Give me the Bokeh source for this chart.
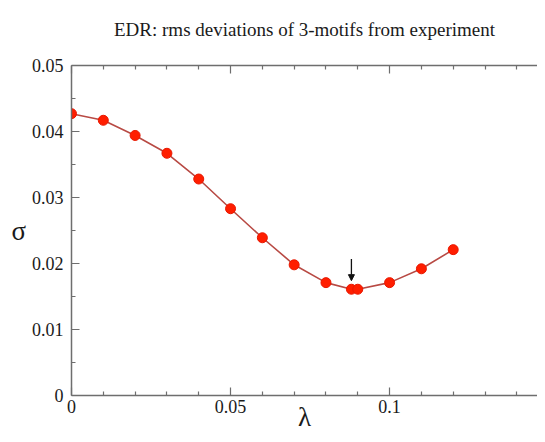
from bokeh.plotting import figure
from bokeh.models import (FixedTicker, LinearAxis, Arrow, NormalHead,
                          Range1d, ColumnDataSource)
from bokeh.embed import file_html
from bokeh.resources import INLINE

# ---- data ----
lam = [0.0, 0.01, 0.02, 0.03, 0.04, 0.05, 0.06, 0.07, 0.08, 0.088, 0.09, 0.10, 0.11, 0.12]
sigma = [0.0427, 0.0417, 0.0394, 0.0367, 0.0328, 0.0283, 0.0239, 0.0198, 0.0171,
         0.0161, 0.0161, 0.0171, 0.0192, 0.0221]

x_ticks = [0.0, 0.05, 0.1]
x_tick_labels = ["0", "0.05", "0.1"]
x_minor = [0.01, 0.02, 0.03, 0.04, 0.06, 0.07, 0.08, 0.09, 0.11, 0.12, 0.13, 0.14]
y_ticks = [0.0, 0.01, 0.02, 0.03, 0.04, 0.05]
y_tick_labels = ["0", "0.01", "0.02", "0.03", "0.04", "0.05"]
y_minor = [0.005, 0.015, 0.025, 0.035, 0.045]

title_text = "EDR: rms deviations of 3-motifs from experiment"
x_label = "λ"
y_label = "σ"

FONT = "Liberation Serif"
AXC = "#6e6e6e"
TXT = "#1a1a1a"

src = ColumnDataSource(dict(x=lam, y=sigma))

p = figure(width=537, height=434, output_backend="svg", toolbar_location=None,
           x_range=Range1d(0, 0.1465), y_range=Range1d(0, 0.05),
           min_border_left=71, min_border_right=0, min_border_top=65,
           min_border_bottom=39, title=title_text + "\n ")
p.outline_line_color = None
p.xgrid.visible = False
p.ygrid.visible = False
p.background_fill_color = "white"
p.border_fill_color = "white"

p.title.text_font = FONT
p.title.text_font_size = "19px"
p.title.text_font_style = "normal"
p.title.text_color = TXT
p.title.align = "center"
p.title.standoff = 10

def style_axis(ax, ticks, minor, labels, standoff, show_labels=True):
    ax.ticker = FixedTicker(ticks=ticks, minor_ticks=minor)
    ax.major_label_overrides = {t: l for t, l in zip(ticks, labels)}
    ax.axis_line_color = AXC
    ax.axis_line_width = 1.5
    ax.major_tick_line_color = AXC
    ax.minor_tick_line_color = AXC
    ax.major_tick_line_width = 1.2
    ax.minor_tick_line_width = 1.2
    ax.major_tick_in = 8
    ax.major_tick_out = 0
    ax.minor_tick_in = 4
    ax.minor_tick_out = 0
    ax.major_label_standoff = standoff
    ax.major_label_text_font = FONT
    ax.major_label_text_font_size = "18px" if show_labels else "0px"
    ax.major_label_text_color = TXT

style_axis(p.xaxis[0], x_ticks, x_minor, x_tick_labels, 4)
style_axis(p.yaxis[0], y_ticks, y_minor, y_tick_labels, 8)

p.xaxis[0].axis_label = x_label
p.xaxis[0].axis_label_text_font = FONT
p.xaxis[0].axis_label_text_font_size = "27px"
p.xaxis[0].axis_label_text_font_style = "normal"
p.xaxis[0].axis_label_text_color = TXT
p.xaxis[0].axis_label_standoff = -14

p.yaxis[0].axis_label = y_label
p.yaxis[0].axis_label_orientation = "horizontal"
p.yaxis[0].axis_label_text_font = FONT
p.yaxis[0].axis_label_text_font_size = "27px"
p.yaxis[0].axis_label_text_font_style = "normal"
p.yaxis[0].axis_label_text_color = TXT
p.yaxis[0].axis_label_standoff = 3

top = LinearAxis()
style_axis(top, x_ticks, x_minor, x_tick_labels, 0, show_labels=False)
top.major_label_text_alpha = 0
p.add_layout(top, "above")

p.line("x", "y", source=src, line_color="#b84a44", line_width=1.6)
p.scatter("x", "y", source=src, size=10, fill_color="#ff1e00", line_color="#e81800",
          line_width=1)

# arrow pointing at minimum
imin = min(range(len(sigma)), key=lambda i: sigma[i])
xm, ym = lam[imin], sigma[imin]
p.add_layout(Arrow(x_start=xm, y_start=ym + 0.0046, x_end=xm, y_end=ym + 0.0013,
                   line_color="#111111", line_width=1.3,
                   end=NormalHead(size=6, fill_color="#111111", line_color="#111111")))

open("out.html", "w").write(file_html(p, INLINE))
